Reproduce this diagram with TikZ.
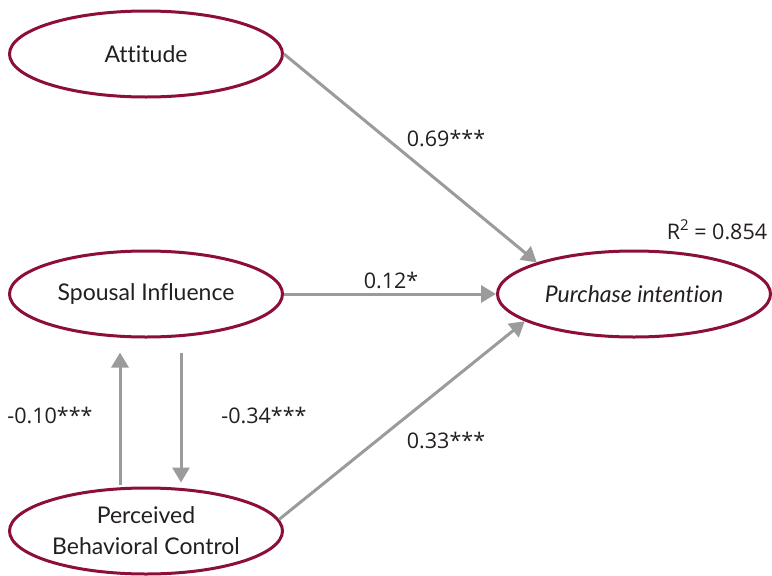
\documentclass[tikz,border=0pt]{standalone}
\usepackage{fontspec}
\setmainfont{Open Sans}
\newfontfamily\latfont[Ligatures=NoCommon]{Lato}
\usetikzlibrary{positioning,arrows.meta,shapes.geometric}
\definecolor{vino}{HTML}{8C0F35}
\definecolor{gris}{HTML}{9B9B9D}
\definecolor{tinta}{HTML}{231F20}
\newcommand{\supdos}{\raisebox{0.75ex}{\fontsize{15}{15}\selectfont 2}}

\begin{document}
\begin{tikzpicture}[x=1pt, y=-1pt, text=tinta, >={Triangle[length=15pt,width=17pt]},
      lat/.style={ellipse, draw=vino, line width=3pt, minimum width=273pt,
                  minimum height=86pt, inner sep=0pt, align=center,
                  font=\latfont\fontsize{23}{31}\selectfont},
      arr/.style={->, draw=gris, line width=3pt},
      coef/.style={font=\fontsize{21.5}{24}\selectfont}]
    \useasboundingbox (0,0) rectangle (772,576);
    \node[lat] (att) at (146,54) {Attitude};
    \node[lat] (spo) at (146,294) {Spousal Influence};
    \node[lat] (pbc) at (146,531) {Perceived\\Behavioral Control};
    \node[lat] (pur) at (634,294) {\itshape Purchase intention};
    \draw[arr] (att.east) -- (pur.162);
    \draw[arr] (spo) -- (pur);
    \draw[arr] (pbc.5) -- (pur.194);
    \draw[arr, shorten <=2pt] ([xshift=-26pt]pbc.north) -- ([xshift=-26pt,yshift=-14pt]spo.south);
    \draw[arr, shorten >=4pt] ([xshift=35pt,yshift=-14pt]spo.south) -- ([xshift=35pt]pbc.north);
    \node[coef] (c69) at (446,138) {0.69***};
    \node[coef] (c12) at (391,280) {0.12*};
    \node[coef] (c33) at (446,440) {0.33***};
    \node[coef] (c10) at (50,415) {-0.10***};
    \node[coef] (c34) at (264,415) {-0.34***};
    \node[coef] (rsq) at (717,230) {R\supdos{} = 0.854};
  \end{tikzpicture}
\end{document}
